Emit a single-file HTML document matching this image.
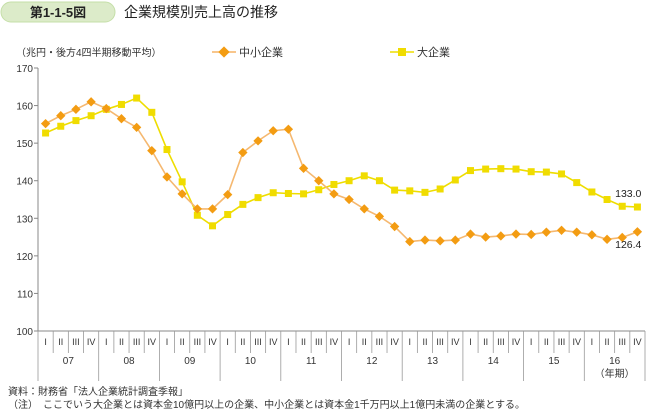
<!DOCTYPE html>
<html><head><meta charset="utf-8"><style>
body{margin:0;width:649px;height:409px;background:#fff;font-family:"Liberation Sans","Noto Sans CJK JP",sans-serif;overflow:hidden}
svg text{font-family:"Liberation Sans","Noto Sans CJK JP",sans-serif}
</style></head><body>
<svg width="649" height="409" viewBox="0 0 649 409">
<rect x="1" y="2" width="114" height="20" rx="10" fill="#dcebc9" stroke="#c5dfa8"/>
<text x="58" y="17" font-size="13" font-weight="bold" text-anchor="middle" fill="#222">第1-1-5図</text>
<text x="124" y="17" font-size="14" fill="#222">企業規模別売上高の推移</text>
<text x="16" y="56" font-size="10" fill="#333">（兆円・後方4四半期移動平均）</text>
<g><line x1="212" y1="52" x2="236" y2="52" stroke="#f5b366" stroke-width="1.5"/><rect x="220" y="48" width="8" height="8" fill="#f39c12" transform="rotate(45 224 52)"/><text x="239" y="56" font-size="11" fill="#333">中小企業</text></g>
<g><line x1="390" y1="52" x2="414" y2="52" stroke="#eedd00" stroke-width="1.5"/><rect x="398" y="48" width="8" height="8" fill="#f0dc00"/><text x="417" y="56" font-size="11" fill="#333">大企業</text></g>
<g id="axes"></g>
<g id="series"></g>
<text x="8" y="395" font-size="10" fill="#333">資料：財務省「法人企業統計調査季報」</text>
<text x="8" y="408" font-size="10" fill="#333">（注）　ここでいう大企業とは資本金10億円以上の企業、中小企業とは資本金1千万円以上1億円未満の企業とする。</text>
</svg>
<script>
const years=["07","08","09","10","11","12","13","14","15","16"];
const quarters=["I","II","III","IV"];
const yTicks=[100,110,120,130,140,150,160,170];
const smallCo=[155.2,157.3,159,161,159.2,156.5,154.2,148,141,136.5,132.5,132.5,136.3,147.5,150.6,153.3,153.7,143.3,140,136.5,135,132.5,130.5,127.8,123.8,124.2,124,124.2,125.8,125,125.3,125.8,125.7,126.3,126.8,126.3,125.6,124.4,124.9,126.4];
const largeCo=[152.7,154.5,156,157.3,159,160.3,162,158.2,148.3,139.7,130.8,128,131,133.7,135.5,136.8,136.6,136.5,137.6,139,140,141.3,140,137.5,137.3,136.9,137.8,140.2,142.7,143.1,143.2,143.1,142.4,142.3,141.8,139.5,137,135,133.2,133.0];
const NS="http://www.w3.org/2000/svg";
const X0=38,X1=645,Y0=331,Y1=68;
const n=years.length*4,qw=(X1-X0)/n;
const xs=i=>X0+qw*(i+0.5);
const ys=v=>Y0-(v-100)/(170-100)*(Y0-Y1);
function mk(p,tag,a){const e=document.createElementNS(NS,tag);for(const k in a)e.setAttribute(k,a[k]);p.appendChild(e);return e;}
const ax=document.getElementById('axes');
let yl=mk(ax,'line',{x1:X0,y1:Y1,x2:X0,y2:Y0,stroke:'#888'});


yTicks.forEach(t=>{
 mk(ax,'line',{x1:X0-4,y1:ys(t),x2:X0,y2:ys(t),stroke:'#888'});
 const tx=mk(ax,'text',{x:X0-5,y:ys(t)+4,'font-size':10,'text-anchor':'end',fill:'#333'});tx.textContent=t;
 
 
});
mk(ax,'line',{x1:X0,y1:Y0,x2:X1,y2:Y0,stroke:'#888'});
for(let i=0;i<=n;i++){
 const x=X0+qw*i,yr=i%4===0;
 mk(ax,'line',{x1:x,y1:Y0,x2:x,y2:yr?Y0+50:Y0+22,stroke:'#999','stroke-width':0.8});
 if(i<n){const t=mk(ax,'text',{x:xs(i),y:Y0+14,'font-size':9,'text-anchor':'middle',fill:'#333'});t.textContent=quarters[i%4];
 
 }
}
years.forEach((y,j)=>{const t=mk(ax,'text',{x:X0+qw*(4*j+2),y:Y0+33,'font-size':10,'text-anchor':'middle',fill:'#333'});t.textContent=y;
 
 });
const ny=mk(ax,'text',{x:X0+qw*38,y:Y0+46,'font-size':10,'text-anchor':'middle',fill:'#333'});ny.textContent='（年期）';
const sg=document.getElementById('series');
function series(data,col,lcol,shape,name){
 const pl=mk(sg,'polyline',{points:data.map((v,i)=>xs(i)+','+ys(v)).join(' '),fill:'none',stroke:lcol,'stroke-width':1.6});
 
 
 data.forEach((v,i)=>{const x=xs(i),y=ys(v);let m;
  if(shape==='d')m=mk(sg,'rect',{x:x-3.3,y:y-3.3,width:6.6,height:6.6,fill:col,transform:`rotate(45 ${x} ${y})`});
  else m=mk(sg,'rect',{x:x-3.5,y:y-3.5,width:7,height:7,fill:col});
  
  });
}
series(largeCo,'#f0dc00','#eedd00','s','large-enterprise');
series(smallCo,'#f39c12','#f5b870','d','sme');
const l1=mk(sg,'text',{x:xs(n-1)+4,y:ys(largeCo[n-1])-10,'font-size':10.5,'text-anchor':'end',fill:'#222'});l1.textContent=largeCo[n-1].toFixed(1);


const l2=mk(sg,'text',{x:xs(n-1)+4,y:ys(smallCo[n-1])+16,'font-size':10.5,'text-anchor':'end',fill:'#222'});l2.textContent=smallCo[n-1].toFixed(1);


</script>
</body></html>
